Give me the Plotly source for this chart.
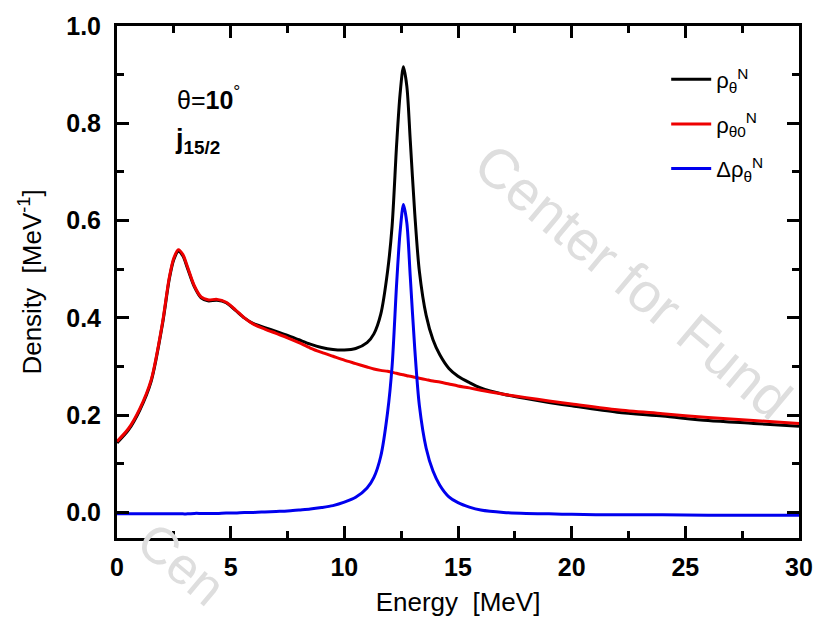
import plotly.graph_objects as go

energy = [0, 0.5, 1.0, 1.5, 2.0, 2.3, 2.5, 2.7, 2.9, 3.1, 3.4, 3.7, 4.0, 4.4, 4.8, 5.2, 5.6, 6.0,
          6.5, 7.0, 7.5, 8.0, 8.5, 9.0, 9.5, 10.0, 10.5, 11.0, 11.3, 11.6, 11.9, 12.1, 12.3, 12.45,
          12.6, 12.75, 12.9, 13.1, 13.3, 13.6, 13.9, 14.2, 14.6, 15.0, 15.5, 16.0, 17.0, 18.0, 19.0,
          20.0, 22.0, 24.0, 26.0, 28.0, 30.0]

rho_theta0 = [0.146, 0.172, 0.213, 0.272, 0.390, 0.483, 0.523, 0.540, 0.530, 0.505, 0.466, 0.443,
              0.437, 0.438, 0.432, 0.417, 0.400, 0.387, 0.377, 0.368, 0.359, 0.349, 0.338, 0.329,
              0.321, 0.313, 0.306, 0.299, 0.295, 0.292, 0.290, 0.288, 0.286, 0.284, 0.283, 0.281,
              0.280, 0.278, 0.276, 0.273, 0.270, 0.268, 0.264, 0.260, 0.256, 0.251, 0.243, 0.236,
              0.229, 0.223, 0.211, 0.203, 0.195, 0.189, 0.183]

delta_rho = [-0.003, -0.003, -0.003, -0.003, -0.003, -0.003, -0.003, -0.003, -0.003, -0.003, -0.002,
             -0.002, -0.002, -0.002, -0.001, -0.001, 0.000, 0.000, 0.001, 0.002, 0.003, 0.005, 0.007,
             0.010, 0.014, 0.021, 0.031, 0.050, 0.072, 0.115, 0.205, 0.300, 0.470, 0.575, 0.633,
             0.595, 0.485, 0.335, 0.220, 0.132, 0.085, 0.056, 0.032, 0.020, 0.011, 0.005, 0.000,
             -0.002, -0.003, -0.004, -0.005, -0.005, -0.006, -0.006, -0.006]

rho_theta = [0.143, 0.169, 0.210, 0.269, 0.387, 0.480, 0.520, 0.537, 0.527, 0.502, 0.464, 0.441,
             0.435, 0.436, 0.431, 0.416, 0.400, 0.388, 0.380, 0.372, 0.364, 0.355, 0.346, 0.339,
             0.335, 0.334, 0.337, 0.349, 0.367, 0.407, 0.495, 0.588, 0.756, 0.859, 0.916, 0.876,
             0.765, 0.613, 0.496, 0.405, 0.355, 0.324, 0.296, 0.280, 0.267, 0.256, 0.243, 0.234,
             0.226, 0.219, 0.206, 0.198, 0.189, 0.183, 0.177]

x_ticks = [0, 5, 10, 15, 20, 25, 30]
y_ticks = [0.0, 0.2, 0.4, 0.6, 0.8, 1.0]
y_tick_text = ["0.0", "0.2", "0.4", "0.6", "0.8", "1.0"]

FONT = "Liberation Sans, Arial, sans-serif"
WM_COLOR = "rgb(222,222,222)"

fig = go.Figure()
fig.add_trace(go.Scatter(x=energy, y=rho_theta, mode="lines",
                         line=dict(color="#000000", width=3, shape="spline", smoothing=0.8),
                         name="ρ<sub>θ</sub><sup>N</sup>", legendgroup="a"))
fig.add_trace(go.Scatter(x=energy, y=rho_theta0, mode="lines",
                         line=dict(color="#ee0000", width=3, shape="spline", smoothing=0.8),
                         name="ρ<sub>θ0</sub><sup>N</sup>", legendgroup="b"))
fig.add_trace(go.Scatter(x=energy, y=delta_rho, mode="lines",
                         line=dict(color="#0000ee", width=3, shape="spline", smoothing=0.8),
                         name="Δρ<sub>θ</sub><sup>N</sup>", legendgroup="c"))

axis_common = dict(
    showline=True, linecolor="black", linewidth=3, mirror="allticks",
    ticks="inside", ticklen=12, tickwidth=3, tickcolor="black",
    showgrid=False, zeroline=False,
    tickfont=dict(family=FONT, size=25, color="black", weight="bold"),
)

fig.update_xaxes(
    range=[0, 30], tickvals=x_ticks, ticktext=[str(v) for v in x_ticks],
    minor=dict(dtick=2.5, ticks="inside", ticklen=7, tickwidth=3, tickcolor="black", showgrid=False),
    title=dict(text="Energy\u00a0\u00a0[MeV]", font=dict(family=FONT, size=26, color="black"), standoff=13),
    ticklabelstandoff=5,
    **axis_common,
)
fig.update_yaxes(
    range=[-0.0526, 1.0], tickvals=y_ticks, ticktext=y_tick_text,
    minor=dict(dtick=0.1, tick0=0, ticks="inside", ticklen=7, tickwidth=3, tickcolor="black", showgrid=False),
    title=dict(text="Density\u00a0\u00a0[MeV<sup>-1</sup>]", font=dict(family=FONT, size=26, color="black"), standoff=18),
    ticklabelstandoff=8,
    **axis_common,
)

def px_x(p):
    return (p - 117) / 683.0

def px_y(p):
    return (538 - p) / 519.0

annotations = [
    dict(x=px_x(634), y=px_y(278), xref="paper", yref="paper", xanchor="center", yanchor="middle",
         text="Center for Fund", textangle=40, showarrow=False,
         font=dict(family=FONT, size=56, color=WM_COLOR)),
    dict(x=px_x(182), y=px_y(564), xref="paper", yref="paper", xanchor="center", yanchor="middle",
         text="Cen", textangle=40, showarrow=False,
         font=dict(family=FONT, size=52, color=WM_COLOR)),
    dict(x=px_x(175), y=px_y(92), xref="paper", yref="paper", xanchor="left", yanchor="middle",
         text="θ=<b>10</b><sup>°</sup>", showarrow=False, font=dict(family=FONT, size=25, color="black")),
    dict(x=px_x(173), y=px_y(136), xref="paper", yref="paper", xanchor="left", yanchor="middle",
         text="<b>j<sub>15/2</sub></b>", showarrow=False, font=dict(family=FONT, size=27, color="black")),
]

fig.update_layout(
    width=825, height=631,
    margin=dict(l=117, r=25, t=19, b=93),
    paper_bgcolor="white", plot_bgcolor="white",
    font=dict(family=FONT, color="black"),
    showlegend=True,
    legend=dict(x=px_x(667), y=px_y(52), xanchor="left", yanchor="top",
                bgcolor="rgba(0,0,0,0)", font=dict(family=FONT, size=22, color="black"),
                tracegroupgap=13, itemwidth=40),
    annotations=annotations,
)

fig.write_html("out.html")
